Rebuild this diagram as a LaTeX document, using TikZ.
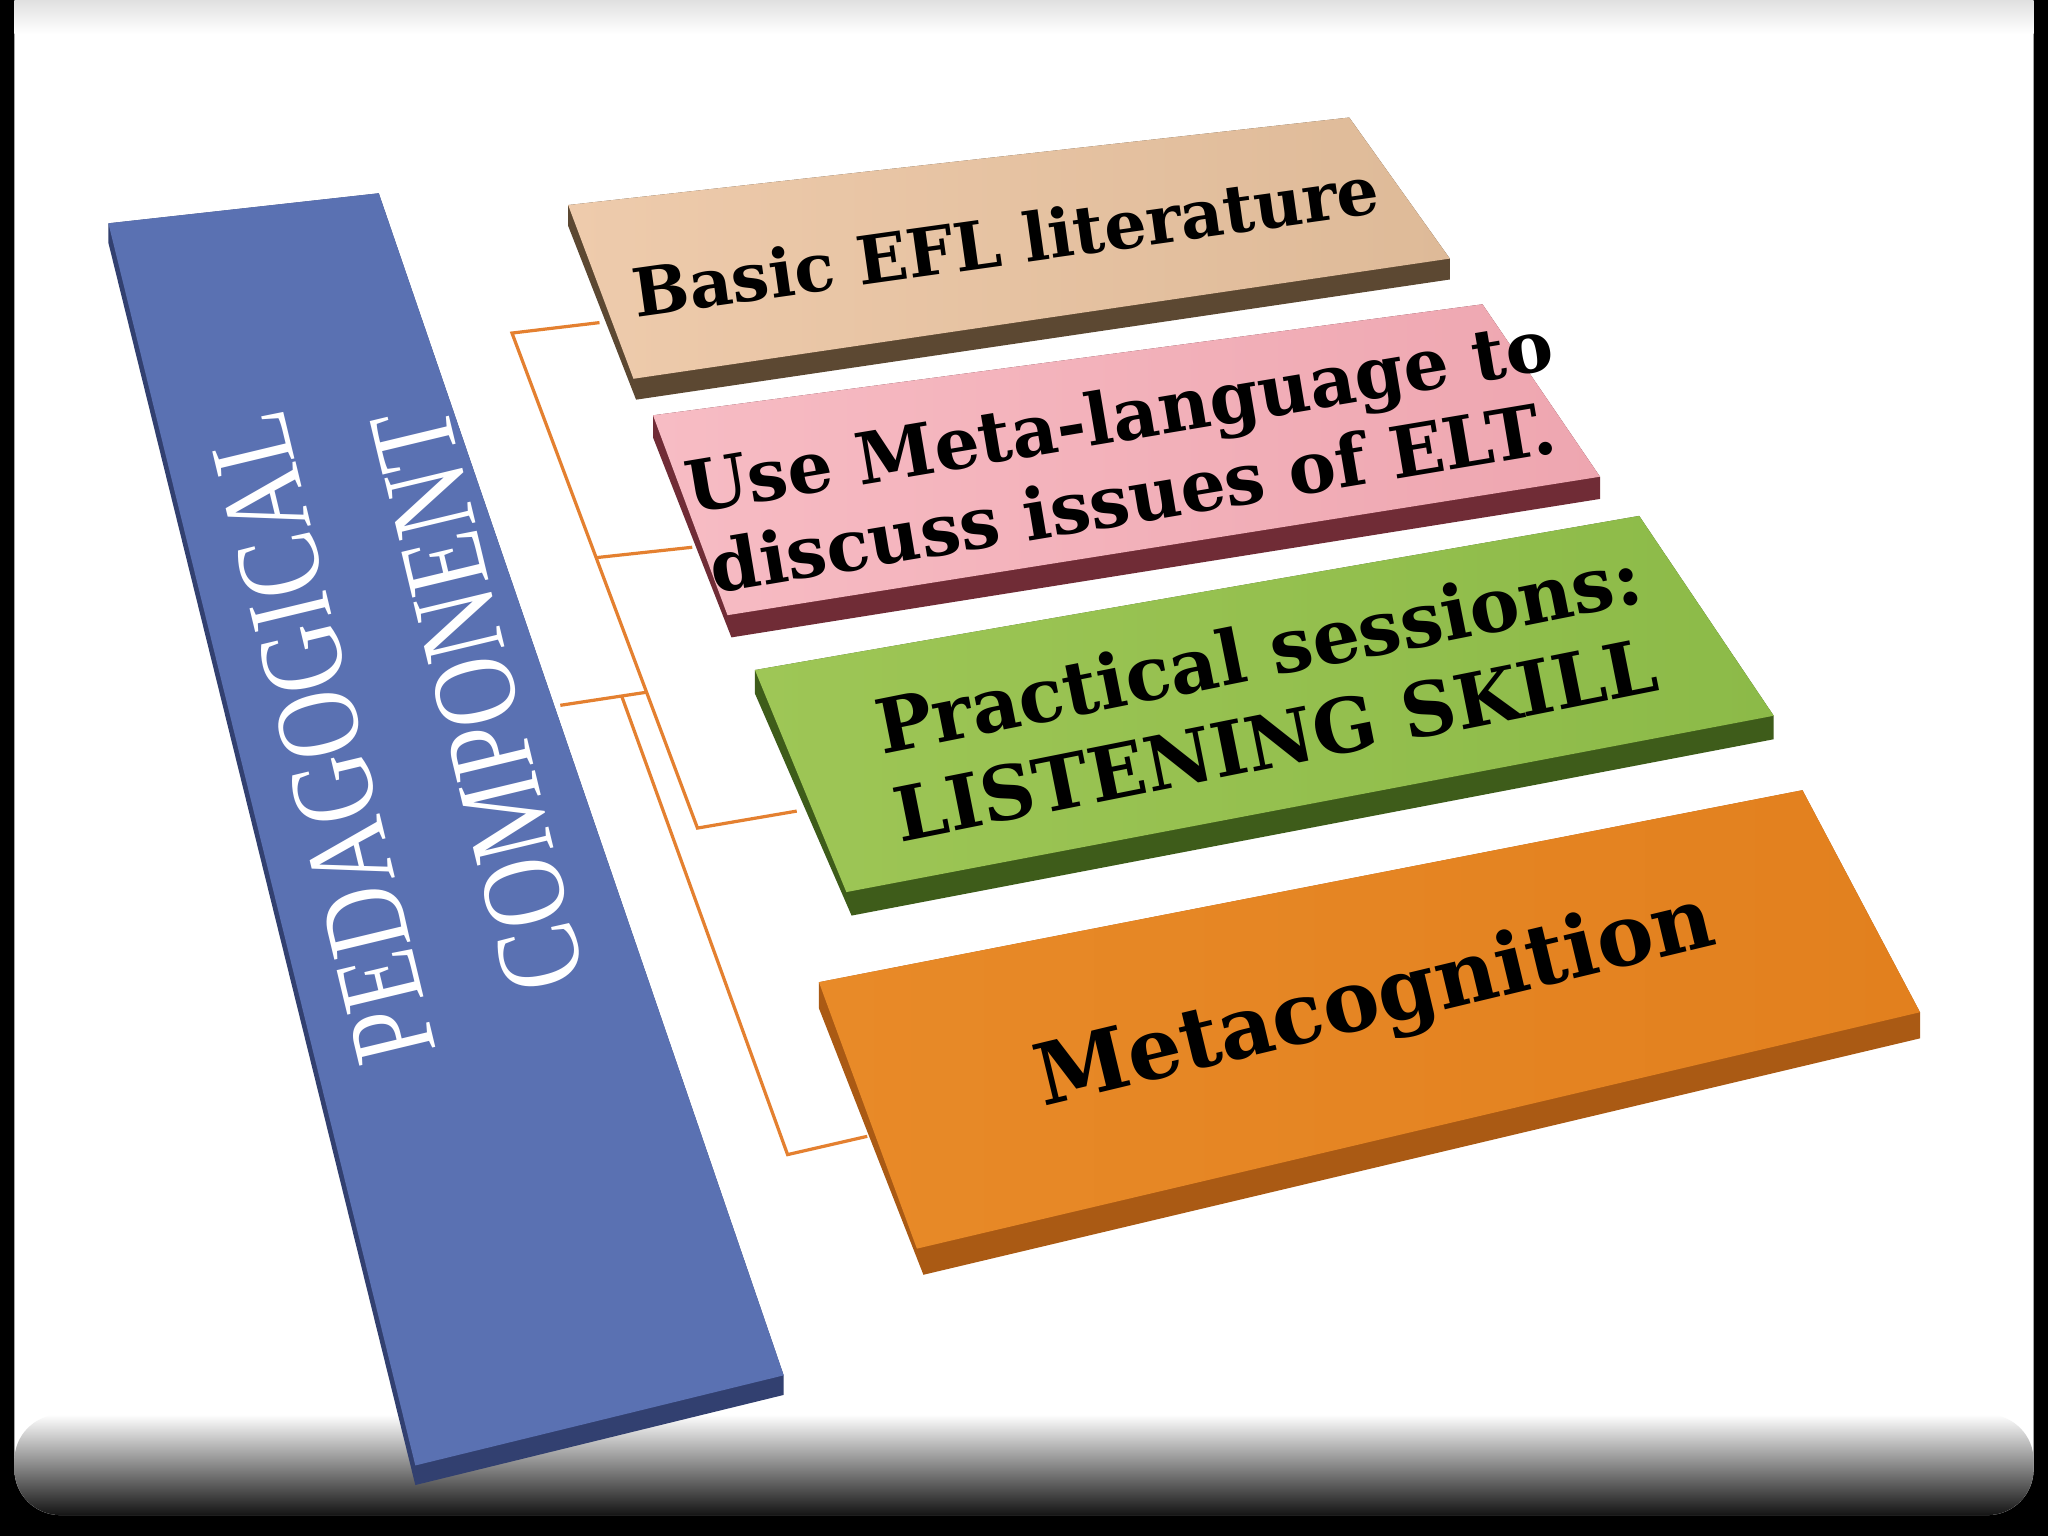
\documentclass[tikz,border=0pt]{standalone}
\usepackage{fontspec}
\usepackage{tikz}
\usetikzlibrary{calc}
\newfontfamily\boxfont{DejaVu Serif}
\newfontfamily\barfont{Liberation Serif}

\definecolor{barblue}{RGB}{90, 113, 178}
\definecolor{barside}{RGB}{50, 64, 112}
\definecolor{tanface}{RGB}{238, 203, 172}
\definecolor{tanright}{RGB}{222, 186, 152}
\definecolor{tanside}{RGB}{92, 72, 50}
\definecolor{pinkface}{RGB}{247, 188, 196}
\definecolor{pinkright}{RGB}{238, 166, 176}
\definecolor{pinkside}{RGB}{112, 44, 54}
\definecolor{greenface}{RGB}{158, 198, 86}
\definecolor{greenright}{RGB}{140, 186, 72}
\definecolor{greenside}{RGB}{62, 92, 26}
\definecolor{orangeface}{RGB}{232, 138, 40}
\definecolor{orangeright}{RGB}{226, 128, 30}
\definecolor{orangeside}{RGB}{170, 90, 20}
\definecolor{linkorange}{RGB}{228, 128, 48}

\tikzset{
  link/.style={draw=linkorange, line width=0.7pt},
  boxtext/.style={text=black, align=center, inner sep=0pt},
  bartext/.style={text=white, align=center, inner sep=0pt}
}

\begin{document}
\begin{tikzpicture}[x=0.01cm, y=-0.01cm]
  \useasboundingbox (0,0) rectangle (1568,1176);

  % Frame
  \fill[black] (0,0) rectangle (1568,1176);
  \fill[white, rounded corners=10] (11,-20) rectangle (1557,1160);
  \shade[top color=black!12, bottom color=white] (11,0) rectangle (1557,26);
  \shade[top color=white, middle color=black!35, bottom color=black!92, rounded corners=10] (11,1083) rectangle (1557,1160);

  % Connector points
  \coordinate (j1) at (392,255);
  \coordinate (j2) at (456,427);
  \coordinate (j3) at (534,634);
  \coordinate (j4) at (495,530);
  \coordinate (j5) at (476,533);
  \coordinate (j6) at (603,884);
  \coordinate (barout) at (429,540);
  \coordinate (b1in) at (459,247);
  \coordinate (b2in) at (530,419);
  \coordinate (b3in) at (610,621);
  \coordinate (b4in) at (664,870);

  % Connectors
  \draw[link] (b1in) -- (j1) -- (j3) -- (b3in);
  \draw[link] (j2) -- (b2in);
  \draw[link] (barout) -- (j4);
  \draw[link] (j5) -- (j6) -- (b4in);

  % Pedagogical bar
  \fill[barside] (83,171) -- (290,148) -- (600,1053) -- (600,1068) -- (318,1137) -- (83,186) -- cycle;
  \fill[barblue] (83,171) -- (290,148) -- (600,1053) -- (318,1122) -- cycle;
  \node[bartext, rotate=103.5, font={\barfont\fontsize{26}{35}\selectfont}] (bar) at (306,550) {\scalebox{0.78}[1]{PEDAGOGICAL}\\ \scalebox{0.80}[1]{COMPONENT}};

  % Box 1
  \fill[tanside] (435,157) -- (1033,90) -- (1110,198) -- (1110,214) -- (487,306) -- (435,173) -- cycle;
  \shade[left color=tanface, right color=tanright] (435,157) -- (1033,90) -- (1110,198) -- (485,290) -- cycle;
  \node[boxtext, rotate=8, font={\boxfont\bfseries\fontsize{14.5}{18}\selectfont}] (efl) at (770,184) {Basic EFL literature};

  % Box 2
  \fill[pinkside] (500,318) -- (1135,233) -- (1225,365) -- (1225,382) -- (560,488) -- (500,335) -- cycle;
  \shade[left color=pinkface, right color=pinkright] (500,318) -- (1135,233) -- (1225,365) -- (557,471) -- cycle;
  \node[boxtext, rotate=9.5, font={\boxfont\bfseries\fontsize{15.5}{18}\selectfont}] (meta) at (862,349) {Use Meta-language to\\ discuss issues of ELT.};

  % Box 3
  \fill[greenside] (578,513) -- (1255,395) -- (1358,548) -- (1358,566) -- (652,701) -- (578,531) -- cycle;
  \shade[left color=greenface, right color=greenright] (578,513) -- (1255,395) -- (1358,548) -- (648,683) -- cycle;
  \node[boxtext, rotate=11.3, font={\boxfont\bfseries\fontsize{16.3}{19.5}\selectfont}] (listen) at (970,532) {Practical sessions:\\ LISTENING SKILL};

  % Box 4
  \fill[orangeside] (627,752) -- (1380,605) -- (1470,775) -- (1470,795) -- (707,976) -- (627,772) -- cycle;
  \shade[left color=orangeface, right color=orangeright] (627,752) -- (1380,605) -- (1470,775) -- (702,956) -- cycle;
  \node[boxtext, rotate=13.5, font={\boxfont\bfseries\fontsize{18.5}{23}\selectfont}] (meco) at (1053,768) {Metacognition};
\end{tikzpicture}
\end{document}
